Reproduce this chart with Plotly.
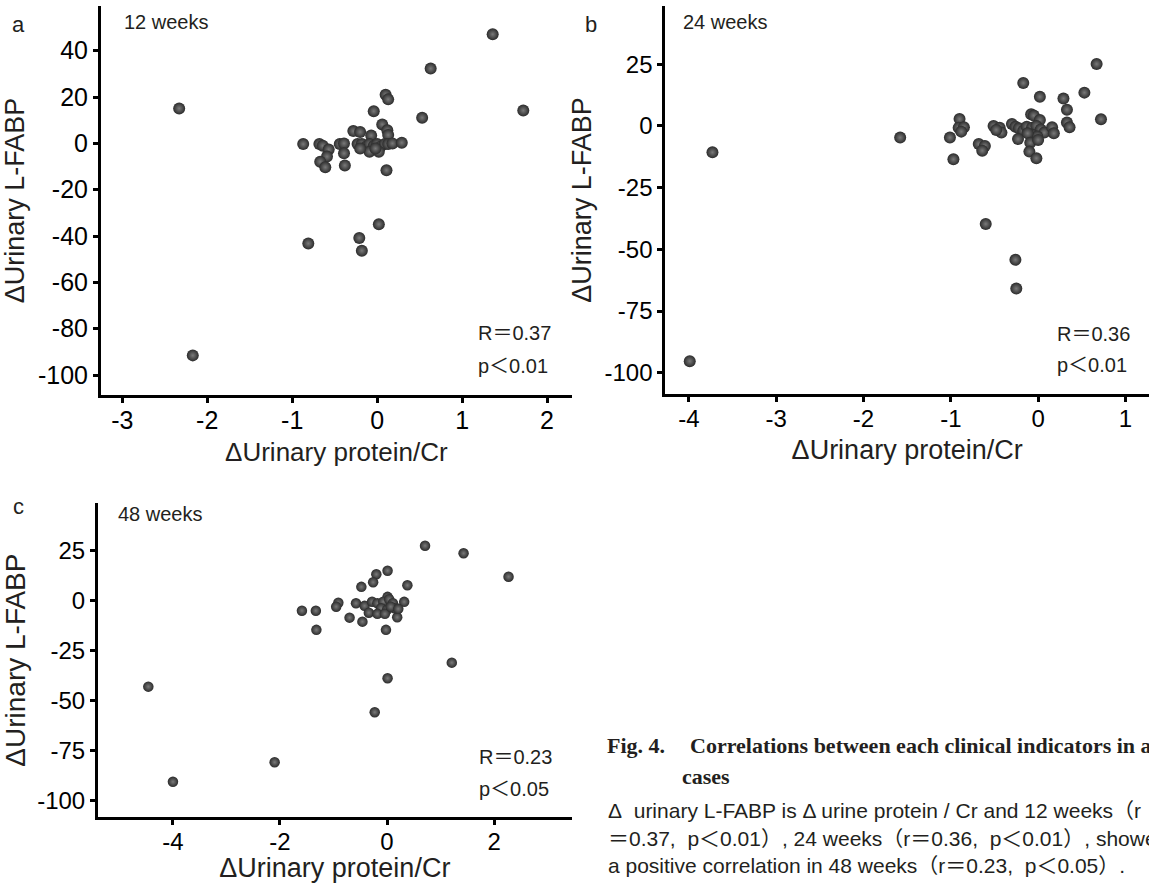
import plotly.graph_objects as go

W, H = 1149, 883

# ---------------- data ----------------
x12 = [1.36, 0.63, -2.33, 1.72, 0.10, 0.13, -0.04, 0.53, 0.06, 0.12, 0.13, -0.28, -0.20, -0.07,
       -0.87, -0.68, -0.64, -0.57, -0.59, -0.67, -0.61, -0.44, -0.39, -0.39, -0.38,
       -0.23, -0.18, -0.13, -0.09, -0.04, 0.00, 0.04, 0.09, 0.13, 0.18, 0.29, -0.09, 0.02, -0.20, -0.02,
       0.11, 0.02, -0.21, -0.18, -0.81, -2.17]
y12 = [47.1, 32.3, 15.1, 14.2, 21.0, 19.0, 13.9, 11.1, 8.2, 5.7, 3.6, 5.3, 4.9, 3.4,
       -0.3, -0.3, -1.0, -2.6, -5.7, -7.9, -10.3, -0.3, 0.0, -4.3, -9.5,
       -0.3, -0.3, -1.4, -0.3, -1.1, -0.3, -1.4, -0.3, -0.3, 0.0, 0.3, -3.6, -3.6, -2.2, -2.2,
       -11.6, -34.9, -40.8, -46.3, -43.2, -91.5]

x24 = [0.67, -0.17, 0.53, 0.02, 0.29, 0.33, 0.72, 0.33, 0.36, -0.08, -0.05, 0.02,
       -0.90, -0.91, -0.85, -0.88, -1.01, -0.97, -1.58, -3.73, -3.99, -0.68, -0.61, -0.64,
       -0.60, -0.26, -0.25, -0.51, -0.44, -0.42, -0.48, -0.30, -0.26, -0.22, -0.17, -0.13,
       -0.07, -0.02, 0.03, 0.07, 0.16, 0.18, -0.07, -0.01, -0.12, -0.23, -0.09, -0.10, -0.02, 0.00]
y24 = [25.1, 17.4, 13.5, 11.8, 11.1, 6.6, 2.7, 1.4, -0.5, 4.7, 4.2, 2.4,
       2.8, -0.7, -0.5, -2.3, -4.7, -13.5, -4.7, -10.7, -95.3, -7.3, -8.1, -10.0,
       -39.7, -54.2, -65.9, 0.0, -0.7, -2.7, -1.6, 0.8, -0.3, -0.9, -1.9, -0.3,
       -0.7, 0.0, -1.4, -2.7, -0.5, -3.0, -3.6, -4.3, -3.0, -5.3, -6.8, -10.4, -13.1, -5.7]

x48 = [0.71, 1.43, 2.27, 0.01, -0.20, -0.26, -0.48, 0.38, 0.01, 0.32, -0.91, -0.95, -1.59, -1.33,
       -1.32, -0.58, -0.42, -0.34, -0.70, -0.46, -0.02, 0.19, -0.28, -0.18, -0.07, 0.04, 0.11,
       -0.11, 0.00, 0.14, -0.18, -0.04, 0.07, 0.21, 1.21, 0.01, -0.23, -4.46, -4.00, -2.10]
y48 = [27.3, 23.5, 11.8, 14.8, 13.0, 9.0, 6.7, 7.5, 1.7, -0.8, -1.2, -3.2, -5.2, -5.2,
       -14.8, -1.5, -2.8, -6.2, -8.7, -10.7, -14.8, -8.5, -0.7, -1.5, -0.7, 0.5, -1.5,
       -4.0, -4.8, -4.0, -6.8, -6.8, -3.2, -4.3, -31.2, -39.0, -56.0, -43.2, -90.8, -81.0]

xticks12 = [-3, -2, -1, 0, 1, 2]
yticks12 = [-100, -80, -60, -40, -20, 0, 20, 40]
xticks24 = [-4, -3, -2, -1, 0, 1]
yticks24 = [-100, -75, -50, -25, 0, 25]
xticks48 = [-4, -2, 0, 2]
yticks48 = [-100, -75, -50, -25, 0, 25]

panel_labels = ["a", "b", "c"]
period_labels = ["12 weeks", "24 weeks", "48 weeks"]
r_labels = ["R＝0.37", "R＝0.36", "R＝0.23"]
p_labels = ["p＜0.01", "p＜0.01", "p＜0.05"]

xtitle = "ΔUrinary protein/Cr"
ytitle = "ΔUrinary L-FABP"

# ---------------- figure ----------------
SANS = "Liberation Sans, Arial, Noto Sans CJK JP, sans-serif"
TXT = "#231f20"

def px_x(p):
    return p / W

def px_y(p):
    return 1 - p / H

fig = go.Figure()

def marker(size):
    return dict(size=size, color="#2b2b2b",
                gradient=dict(type="radial", color="#7a7a7a"),
                line=dict(width=0))

fig.add_trace(go.Scatter(x=x12, y=y12, mode="markers", marker=marker(12),
                         xaxis="x", yaxis="y", hoverinfo="skip"))
fig.add_trace(go.Scatter(x=x24, y=y24, mode="markers", marker=marker(12),
                         xaxis="x2", yaxis="y2", hoverinfo="skip"))
fig.add_trace(go.Scatter(x=x48, y=y48, mode="markers", marker=marker(10.5),
                         xaxis="x3", yaxis="y3", hoverinfo="skip"))

def xax(dom, rng, ticks, anchor, tf, tt, so):
    return dict(domain=dom, range=rng, tickvals=ticks, ticktext=[str(t) for t in ticks],
                anchor=anchor, showline=True, linewidth=3, linecolor="black",
                ticks="outside", ticklen=5, tickwidth=2.5, tickcolor="black",
                ticklabelstandoff=-4,
                showgrid=False, zeroline=False,
                tickfont=dict(family=SANS, size=tf, color="black"),
                title=dict(text=xtitle, font=dict(family=SANS, size=tt, color=TXT), standoff=so))

def yax(dom, rng, ticks, anchor, tf, tt):
    return dict(domain=dom, range=rng, tickvals=ticks, ticktext=[str(t) for t in ticks],
                anchor=anchor, showline=True, linewidth=3, linecolor="black",
                ticks="outside", ticklen=5, tickwidth=2.5, tickcolor="black",
                showgrid=False, zeroline=False,
                tickfont=dict(family=SANS, size=tf, color="black"),
                title=dict(text=ytitle, font=dict(family=SANS, size=tt, color=TXT), standoff=6))

layout = dict(
    width=W, height=H, margin=dict(l=0, r=0, t=0, b=0),
    paper_bgcolor="white", plot_bgcolor="white", showlegend=False,
    xaxis=xax([px_x(101), px_x(571.7)], [-3.25, 2.29], xticks12, "y", 25, 26, 10),
    yaxis=yax([px_y(395), px_y(6)], [-108.6, 59.3], yticks12, "x", 25, 27),
    xaxis2=xax([px_x(665.3), 1.0], [-4.27, 1.27], xticks24, "y2", 24, 27, 10),
    yaxis2=yax([px_y(394), px_y(6)], [-108.6, 48.6], yticks24, "x2", 24, 27),
    xaxis3=xax([px_x(98), px_x(571.7)], [-5.40, 3.45], xticks48, "y3", 24, 27, 7),
    yaxis3=yax([px_y(817), px_y(503.3)], [-108.4, 48.5], yticks48, "x3", 24, 28),
)
fig.update_layout(**layout)

def ann(text, x, y, size, family=SANS, xanchor="left", color=TXT):
    fig.add_annotation(text=text, x=px_x(x), y=px_y(y), xref="paper", yref="paper",
                       xanchor=xanchor, yanchor="middle", showarrow=False,
                       font=dict(family=family, size=size, color=color))

# panel letters
ann(panel_labels[0], 10, 25, 22)
ann(panel_labels[1], 583, 24, 22)
ann(panel_labels[2], 11, 506, 22)
# periods
ann(period_labels[0], 122, 22, 20)
ann(period_labels[1], 681, 22, 20)
ann(period_labels[2], 116, 514, 20)
# stats
ann(r_labels[0], 476, 333, 20)
ann(p_labels[0], 476, 366, 20)
ann(r_labels[1], 1055, 334, 20)
ann(p_labels[1], 1055, 365, 20)
ann(r_labels[2], 477, 757, 20)
ann(p_labels[2], 477, 789, 20)

# caption
SERIF = "Liberation Serif, Times New Roman, serif"
ann("<b>Fig. 4.</b>", 605, 745, 22, family=SERIF)
ann("<b>Correlations between each clinical indicators in all</b>", 688, 745, 22, family=SERIF)
ann("<b>cases</b>", 680, 776, 22, family=SERIF)
cap1 = "Δ\u00a0\u00a0urinary L-FABP is Δ urine protein / Cr and 12 weeks（r"
cap2 = "＝0.37,\u00a0\u00a0p＜0.01）, 24 weeks（r＝0.36,\u00a0\u00a0p＜0.01）, showed"
cap3 = "a positive correlation in 48 weeks（r＝0.23,\u00a0\u00a0p＜0.05）."
ann(cap1, 606, 810, 21)
ann(cap2, 606, 838, 21)
ann(cap3, 606, 865, 21)

fig.write_html("out.html")
